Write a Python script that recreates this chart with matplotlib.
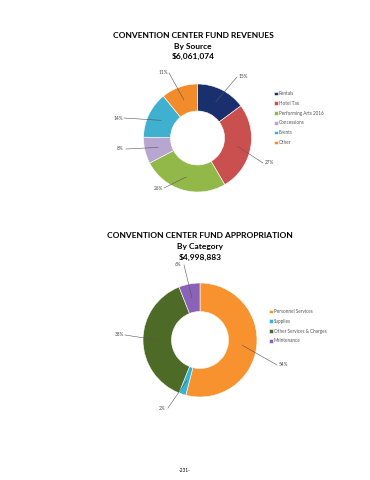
import numpy as np
import matplotlib
matplotlib.use("Agg")
import matplotlib.pyplot as plt

plt.rcParams['font.family'] = ['Lato', 'DejaVu Sans']

# ---- data -----------------------------------------------------------------
rev_labels = ['Rentals', 'Hotel Tax', 'Performing Arts 2016', 'Concessions', 'Events', 'Other']
rev_pct = [15, 27, 26, 8, 14, 11]
rev_colors = ['#1a2f6e', '#c9504f', '#93b84a', '#b7a7d0', '#3fb0cf', '#f28c2a']
rev_title = ['CONVENTION CENTER FUND REVENUES', 'By Source', '$6,061,074']

app_labels = ['Personnel Services', 'Supplies', 'Other Services & Charges', 'Maintenance']
app_pct = [54, 2, 38, 6]
app_colors = ['#f7922f', '#36b4d6', '#4d6a26', '#8a63b8']
app_title = ['CONVENTION CENTER FUND APPROPRIATION', 'By Category', '$4,998,883']

page_no = '-231-'

# ---- layout (pixel positions, y measured from top) -------------------------
W, H = 370, 480
rev_center, rev_r = (197.5, 138), 54
app_center, app_r = (200, 340), 57
rev_label_pos = [(243, 77), (269, 163), (158, 188), (120, 149), (118, 118), (163, 73)]
app_label_pos = [(283, 365), (162, 408), (119, 335), (178, 265)]

fig = plt.figure(figsize=(W / 100, H / 100), dpi=100)
ax = fig.add_axes([0, 0, 1, 1])


def donut(values, colors, labels, center, r, label_pos, title, title_y, title_x,
          legend_xy):
    cx, cy = center[0], H - center[1]
    wedges, _ = ax.pie(values, colors=colors, startangle=90, counterclock=False,
                       center=(cx, cy), radius=r, frame=True,
                       wedgeprops=dict(width=r * 0.5, edgecolor='white', linewidth=0.4))
    for w, v, (lx, ly) in zip(wedges, values, label_pos):
        mid = np.deg2rad((w.theta1 + w.theta2) / 2)
        ex, ey = cx + 0.75 * r * np.cos(mid), cy + 0.75 * r * np.sin(mid)
        ly = H - ly
        sx = lx - 6 if lx > ex else lx + 6
        ax.plot([sx, ex], [ly, ey], color='#555555', lw=0.4)
        ax.text(lx, ly, f'{v}%', fontsize=3.4, ha='center', va='center', color='#444444')
    for i, line in enumerate(title):
        ax.text(title_x, H - title_y - [0, 11, 21][i], line, fontsize=6,
                fontweight='bold', ha='center', va='center')
    leg = ax.legend(wedges, labels, loc='upper left',
                    bbox_to_anchor=(legend_xy[0], H - legend_xy[1]),
                    bbox_transform=ax.transData, frameon=False, fontsize=3.3,
                    handlelength=0.8, handleheight=0.8, handletextpad=0.3,
                    labelspacing=1.05, borderpad=0, borderaxespad=0,
                    labelcolor='#555555')
    ax.add_artist(leg)
    ax.legend_ = None   # keep it only as a plain artist, so it is drawn once


donut(rev_pct, rev_colors, rev_labels, rev_center, rev_r, rev_label_pos,
      rev_title, 35, 193, (274, 91))
donut(app_pct, app_colors, app_labels, app_center, app_r, app_label_pos,
      app_title, 236, 200, (269, 309))

ax.set_xlim(0, W)
ax.set_ylim(0, H)
ax.set_aspect('equal')
ax.axis('off')
ax.text(185, H - 471, page_no, fontsize=3.4, ha='center', va='center')

fig.savefig('out.png', dpi=100)
